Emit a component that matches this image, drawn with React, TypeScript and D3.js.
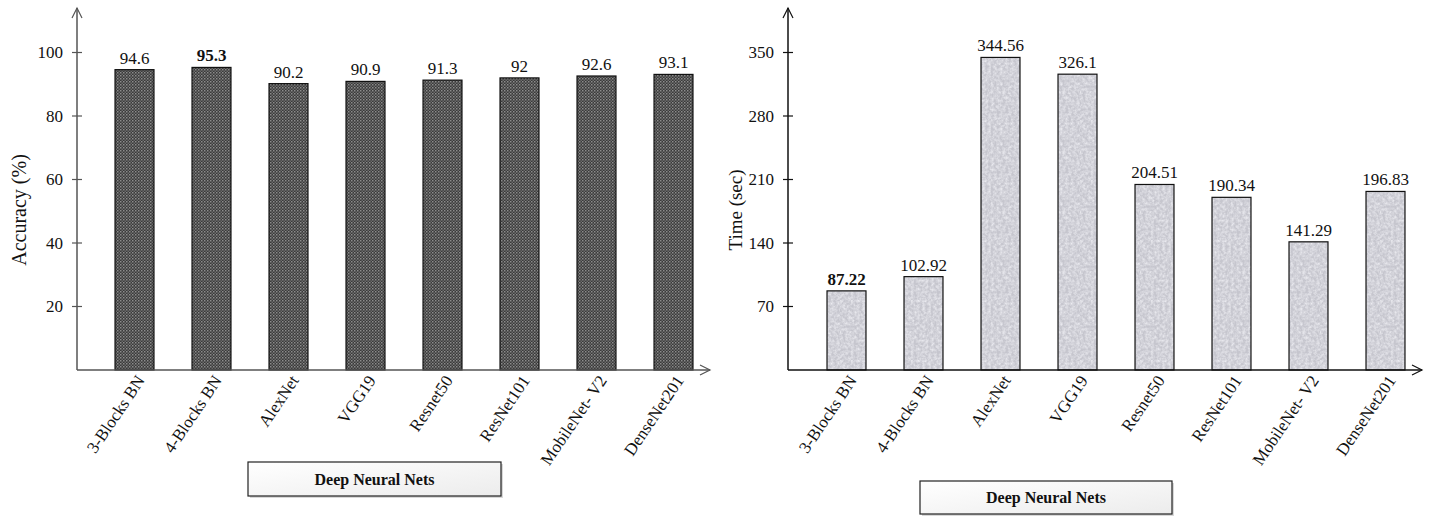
import React from "react";
import * as d3 from "d3";

const categories = ["3-Blocks BN", "4-Blocks BN", "AlexNet", "VGG19", "Resnet50", "ResNet101", "MobileNet- V2", "DenseNet201"];
const accuracy = [94.6, 95.3, 90.2, 90.9, 91.3, 92, 92.6, 93.1];
const accuracyLabels = ["94.6", "95.3", "90.2", "90.9", "91.3", "92", "92.6", "93.1"];
const timeSec = [87.22, 102.92, 344.56, 326.1, 204.51, 190.34, 141.29, 196.83];
const timeLabels = ["87.22", "102.92", "344.56", "326.1", "204.51", "190.34", "141.29", "196.83"];
const accTicks = [20, 40, 60, 80, 100];
const timeTicks = [70, 140, 210, 280, 350];
const boldIndexAcc = 1;
const boldIndexTime = 0;

const W = 1432;
const H = 522;
const FONT = "'Liberation Serif', 'Times New Roman', serif";

type PanelProps = {
  axisX: number;
  bandStart: number;
  axisEnd: number;
  values: number[];
  labels: string[];
  ticks: number[];
  yMax: number;
  yLabel: string;
  yLabelX: number;
  yLabelSize: number;
  fill: string;
  boldIndex: number;
  axisColor: string;
  box: { x: number; y: number; w: number; h: number };
};

function Panel(p: PanelProps) {
  const baseY = 370;
  const topY = 52.5;
  const y = d3.scaleLinear().domain([0, p.yMax]).range([baseY, topY]);
  const x = d3
    .scaleBand<string>()
    .domain(categories)
    .range([p.bandStart, p.bandStart + 616])
    .paddingInner(0.494)
    .paddingOuter(0.247);
  const bw = x.bandwidth();
  return (
    <g fontFamily={FONT}>
      {categories.map((c, i) => (
        <rect
          key={c}
          x={x(c)}
          y={y(p.values[i])}
          width={bw}
          height={baseY - y(p.values[i])}
          fill={p.fill}
          stroke="#111"
          strokeWidth={1.2}
        />
      ))}
      {categories.map((c, i) => (
        <text
          key={"v" + c}
          x={(x(c) as number) + bw / 2}
          y={y(p.values[i]) - 6}
          textAnchor="middle"
          fontSize={17}
          fontWeight={i === p.boldIndex ? "bold" : "normal"}
          fill="#111"
        >
          {p.labels[i]}
        </text>
      ))}
      <line x1={p.axisX} y1={baseY} x2={p.axisX} y2={8} stroke={p.axisColor} strokeWidth={1.5} />
      <polyline
        points={`${p.axisX - 5},${18} ${p.axisX},${8} ${p.axisX + 5},${18}`}
        fill="none"
        stroke={p.axisColor}
        strokeWidth={1.2}
      />
      {p.ticks.map((t) => (
        <g key={t}>
          <line x1={p.axisX - 5} x2={p.axisX + 5} y1={y(t)} y2={y(t)} stroke={p.axisColor} strokeWidth={1.2} />
          <text x={p.axisX - 14} y={y(t)} dy="0.35em" textAnchor="end" fontSize={17} fill="#111">
            {t}
          </text>
        </g>
      ))}
      <line x1={p.axisX} y1={baseY} x2={p.axisEnd} y2={baseY} stroke={p.axisColor} strokeWidth={1.5} />
      <polyline
        points={`${p.axisEnd - 10},${baseY - 5} ${p.axisEnd},${baseY} ${p.axisEnd - 10},${baseY + 5}`}
        fill="none"
        stroke={p.axisColor}
        strokeWidth={1.2}
      />
      {categories.map((c) => {
        const cx = (x(c) as number) + bw / 2 + 6;
        const cy = baseY + 7;
        return (
          <text
            key={"c" + c}
            transform={`translate(${cx},${cy}) rotate(-56)`}
            textAnchor="end"
            dy="0.35em"
            fontSize={17}
            fill="#111"
          >
            {c}
          </text>
        );
      })}
      <text
        transform={`translate(${p.yLabelX},${210}) rotate(-90)`}
        textAnchor="middle"
        fontSize={p.yLabelSize}
        fill="#111"
      >
        {p.yLabel}
      </text>
      <rect x={p.box.x + 2} y={p.box.y + 2} width={p.box.w} height={p.box.h} fill="#d8d8d8" />
      <rect
        x={p.box.x}
        y={p.box.y}
        width={p.box.w}
        height={p.box.h}
        fill="url(#boxGrad)"
        stroke="#222"
        strokeWidth={1.2}
      />
      <text
        x={p.box.x + p.box.w / 2}
        y={p.box.y + p.box.h / 2}
        dy="0.35em"
        textAnchor="middle"
        fontSize={16}
        fontWeight="bold"
        fill="#111"
      >
        Deep Neural Nets
      </text>
    </g>
  );
}

export default function App() {
  return (
    <svg
      width={W}
      height={H}
      viewBox={`0 0 ${W} ${H}`}
      style={{ position: "absolute", left: 0, top: 0, background: "#fff" }}
    >
      <defs>
        <pattern id="checker" width="3" height="3" patternUnits="userSpaceOnUse">
          <rect width="3" height="3" fill="#3a3a3a" />
          <rect width="1.5" height="1.5" fill="#8c8c8c" />
          <rect x="1.5" y="1.5" width="1.5" height="1.5" fill="#6a6a6a" />
        </pattern>
        <filter id="granite" x="0" y="0" width="100%" height="100%">
          <feTurbulence type="fractalNoise" baseFrequency="0.35" numOctaves="3" seed="4" result="noise" />
          <feColorMatrix
            in="noise"
            type="matrix"
            values="0 0 0 0 0.86  0 0 0 0 0.86  0 0 0 0 0.9  0 0 0 -1.6 1.1"
            result="tint"
          />
          <feComposite in="tint" in2="SourceGraphic" operator="in" />
        </filter>
        <pattern id="graniteFill" width="60" height="60" patternUnits="userSpaceOnUse">
          <rect width="60" height="60" fill="#c6c6ce" />
          <rect width="60" height="60" fill="#a0a0aa" filter="url(#granite)" />
        </pattern>
        <linearGradient id="boxGrad" x1="0" y1="0" x2="1" y2="1">
          <stop offset="0" stopColor="#ffffff" />
          <stop offset="1" stopColor="#ececec" />
        </linearGradient>
      </defs>
      <Panel
        axisX={77}
        bandStart={96}
        axisEnd={710}
        values={accuracy}
        labels={accuracyLabels}
        ticks={accTicks}
        yMax={100}
        yLabel="Accuracy (%)"
        yLabelX={26}
        yLabelSize={20}
        fill="url(#checker)"
        boldIndex={boldIndexAcc}
        axisColor="#555"
        box={{ x: 248, y: 462, w: 253, h: 34 }}
      />
      <Panel
        axisX={788}
        bandStart={808}
        axisEnd={1422}
        values={timeSec}
        labels={timeLabels}
        ticks={timeTicks}
        yMax={350}
        yLabel="Time (sec)"
        yLabelX={742}
        yLabelSize={19}
        fill="url(#graniteFill)"
        boldIndex={boldIndexTime}
        axisColor="#111"
        box={{ x: 920, y: 481, w: 252, h: 33 }}
      />
    </svg>
  );
}
